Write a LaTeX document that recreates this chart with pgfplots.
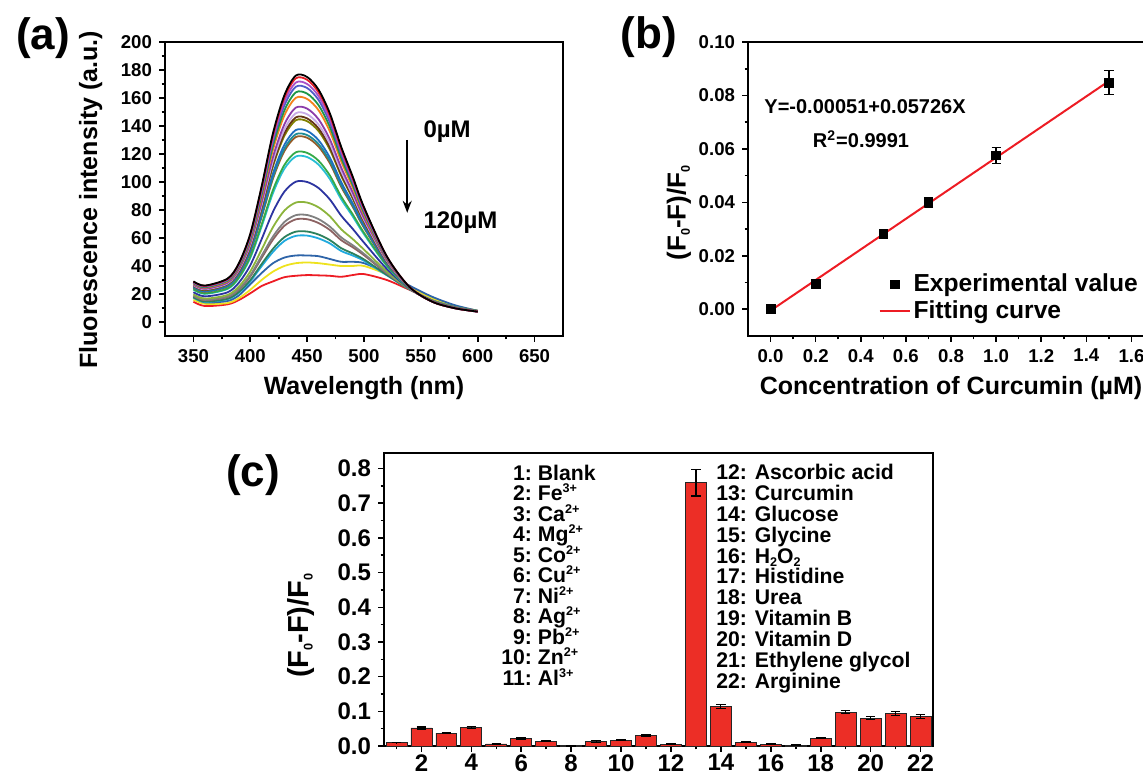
\documentclass[border=0pt]{standalone}
\usepackage{fontspec}
\setmainfont{Liberation Sans}
\usepackage{pgfplots}
\usepackage{pgfplotstable}
\pgfplotsset{compat=1.18}
\usetikzlibrary{arrows.meta}

\newcommand{\fs}[1]{\fontsize{#1}{#1}\selectfont}
\newcommand{\sups}[1]{\raisebox{0.38em}{\fs{6.3}#1}}
\newcommand{\subs}[1]{\raisebox{-0.16em}{\fs{6.3}#1}}

% spectra, 0 uM (c177) down to 120 uM (c33)
\pgfplotstableread{
x   c33  c42  c48  c62  c65  c74  c77  c86  c101  c119  c122  c133  c135  c138  c145  c147  c150  c154  c161  c165  c169  c172  c175  c177
350 14.5 16   18   17.4 17.7 18.6 18.9 19.8 21.3  23.1  23.4  24.5  24.8  25.1  25.8  26    26.3  26.7  27.4  27.8  28.2  28.5  28.8  29
360 11.4 13   14   14.3 14.6 15.5 15.8 16.7 18.3  20.1  20.4  21.5  21.7  22    22.7  22.9  23.3  23.7  24.4  24.8  25.2  25.5  25.8  26
380 12.6 13.5 15   16.3 16.6 17.8 18.2 19.3 21.2  23.6  24    25.4  25.6  26    26.9  27.2  27.5  28.1  29    29.5  30    30.4  30.7  31
390 15.7 17   19   20.9 21.5 23.1 23.7 25.3 28.1  31.4  31.9  33.9  34.3  34.8  36.1  36.5  37.1  37.8  39.1  39.8  40.5  41.1  41.6  42
400 20.5 23   27   29   29.9 32.5 33.4 36.1 40.5  45.8  46.7  50    50.5  51.4  53.5  54.1  55    56.2  58.3  59.4  60.6  61.5  62.4  63
410 25.7 30   35   39.9 41.4 45.8 47.3 51.8 59.2  68.2  69.7  75.1  76.1  77.6  81.1  82.1  83.6  85.6  89.1  91    93    94.5  96    97
420 29   36   42   50.1 52.3 58.9 61.1 67.8 78.8  92.2  94.4  102.5 103.9 106.2 111.4 112.8 115.1 118   123.2 126.1 129.1 131.3 133.5 135
430 32   40   46   57.9 60.6 68.7 71.4 79.6 93.1  109.5 112.2 122.1 123.9 126.6 133   134.8 137.6 141.2 147.6 151.1 154.7 157.5 160.2 162
440 33   42   47.5 61.5 64.5 73.3 76.3 85.3 100.2 118.2 121.2 132.1 134.1 137.1 144.1 146.1 149.1 153.1 160.1 164   168   171   174   176
450 33.5 42.5 47.5 61.7 64.6 73.4 76.4 85.3 100   117.8 120.8 131.6 133.5 136.5 143.4 145.4 148.4 152.4 159.3 163.1 167.1 170   173   175
460 33.3 42   47   59.7 62.5 70.7 73.5 81.9 95.7  112.4 115.2 125.3 127.1 129.9 136.4 138.3 141.1 144.8 151.3 154.9 158.6 161.4 164.1 166
470 33   41   45   56.1 58.5 65.7 68.1 75.5 87.5  102.1 104.6 113.4 115   117.4 123.1 124.8 127.2 130.4 136.1 139.3 142.5 144.9 147.4 149
480 32.3 40   43   50.7 52.7 58.4 60.4 66.2 75.9  87.6  89.5  96.5  97.8  99.8  104.3 105.6 107.6 110.2 114.7 117.2 119.8 121.8 123.7 125
490 33.5 40   43   47.5 49   53.4 54.9 59.3 66.6  75.5  77    82.4  83.3  84.8  88.3  89.3  90.7  92.7  96.2  98.1  100.1 101.5 103   104
500 34.2 40   42   43.7 44.7 47.7 48.7 51.7 56.7  62.7  63.7  67.3  68    69    71.3  72    73    74.4  76.7  78    79.3  80.3  81.3  82
520 30   34   35   33.4 33.7 34.8 35.2 36.2 38    40.1  40.5  41.8  42    42.4  43.2  43.4  43.8  44.3  45.1  45.6  46    46.4  46.8  47
540 23   25   26   23.4 23.4 23.6 23.6 23.7 23.9  24.2  24.2  24.4  24.4  24.5  24.6  24.6  24.6  24.7  24.8  24.8  24.9  24.9  25    25
560 15.7 17   18   15.5 15.4 15.4 15.3 15.3 15.1  15    15    14.9  14.9  14.8  14.8  14.8  14.7  14.7  14.6  14.6  14.6  14.5  14.5  14.5
580 11   11.5 12   10.8 10.7 10.7 10.6 10.6 10.4  10.3  10.3  10.2  10.2  10.1  10.1  10.1  10    10    9.9   9.9   9.9   9.8   9.8   9.8
600 8    8    8    7.9  7.9  7.8  7.8  7.8  7.7   7.6   7.6   7.6   7.6   7.6   7.5   7.5   7.5   7.5   7.5   7.5   7.4   7.4   7.4   7.4
}\spectra

\definecolor{s01}{RGB}{237,28,36}
\definecolor{s02}{RGB}{238,226,30}
\definecolor{s03}{RGB}{46,100,168}
\definecolor{s04}{RGB}{32,170,222}
\definecolor{s05}{RGB}{44,128,92}
\definecolor{s06}{RGB}{140,98,98}
\definecolor{s07}{RGB}{128,128,128}
\definecolor{s08}{RGB}{140,180,60}
\definecolor{s09}{RGB}{44,52,160}
\definecolor{s10}{RGB}{40,190,212}
\definecolor{s11}{RGB}{52,170,72}
\definecolor{s12}{RGB}{150,92,40}
\definecolor{s13}{RGB}{30,140,150}
\definecolor{s14}{RGB}{30,110,192}
\definecolor{s15}{RGB}{128,128,0}
\definecolor{s16}{RGB}{100,52,22}
\definecolor{s17}{RGB}{200,170,230}
\definecolor{s18}{RGB}{140,60,170}
\definecolor{s19}{RGB}{245,130,30}
\definecolor{s20}{RGB}{30,150,70}
\definecolor{s21}{RGB}{80,90,200}
\definecolor{s22}{RGB}{170,80,200}
\definecolor{s23}{RGB}{230,30,40}
\definecolor{s24}{RGB}{0,0,0}
\definecolor{barred}{RGB}{236,46,38}

\pgfplotsset{
  panel/.style={
    scale only axis,
    clip=false,
    axis line style={line width=0.9pt},
    tick align=outside,
    xtick pos=bottom, ytick pos=left,
    major tick length=3pt, minor tick length=1.7pt,
    every tick/.style={line width=0.8pt, black},
    /pgf/number format/assume math mode=true,
    label style={font=\bfseries\fs{12.5}},
  },
  legmark/.style={legend image code/.code={%
    \draw[mark repeat=2, mark phase=2, ##1] plot coordinates {(0pt,0pt) (7.5pt,0pt) (15pt,0pt)};}},
  legline/.style={legend image code/.code={\draw[##1] (0pt,0pt) -- (15pt,0pt);}},
}

\begin{document}
\begin{tikzpicture}
\useasboundingbox (0,0) rectangle (571.5pt,387pt);

% ---------- (a) ----------
\begin{axis}[panel,
  at={(82.5pt,219pt)}, anchor=south west,
  width=199pt, height=147pt,
  xmin=325, xmax=675, ymin=-10, ymax=200,
  xtick={350,400,...,650}, minor x tick num=1,
  ytick={0,20,...,200}, minor y tick num=1,
  ticklabel style={font=\bfseries\fs{9.3}},
  xlabel={Wavelength (nm)},
  ylabel={Fluorescence intensity (a.u.)},
  xlabel style={at={(axis description cs:0.5,-0.177)}, anchor=center},
  ylabel style={at={(axis description cs:-0.187,0.463)}, anchor=center},
  cycle list={s01\\s02\\s03\\s04\\s05\\s06\\s07\\s08\\s09\\s10\\s11\\s12\\s13\\s14\\s15\\s16\\s17\\s18\\s19\\s20\\s21\\s22\\s23\\s24\\},
  every axis plot/.append style={no marks, smooth, line width=0.9pt},
]
\pgfplotsinvokeforeach{c33,c42,c48,c62,c65,c74,c77,c86,c101,c119,c122,c133,c135,c138,c145,c147,c150,c154,c161,c165,c169,c172,c175,c177}{
  \addplot table[x=x, y=#1]{\spectra};
}
\draw[-{Stealth[length=6pt,width=4.5pt]}, line width=0.8pt] (axis cs:538,130) -- (axis cs:538,78);
\node[anchor=west, font=\bfseries\fs{12}, inner sep=0pt] at (axis cs:552,136) {0µM};
\node[anchor=west, font=\bfseries\fs{12}, inner sep=0pt] at (axis cs:552,71) {120µM};
\end{axis}

% ---------- (b) ----------
\begin{axis}[panel,
  at={(374pt,219pt)}, anchor=south west,
  width=203pt, height=147pt,
  xmin=-0.1, xmax=1.7, ymin=-0.01, ymax=0.10,
  xtick={0,0.2,0.4,0.6,0.8,1.0,1.2,1.4,1.6}, minor x tick num=1,
  ytick={0,0.02,0.04,0.06,0.08,0.10}, minor y tick num=1,
  ticklabel style={font=\bfseries\fs{9.3}},
  xticklabel style={/pgf/number format/.cd, fixed, fixed zerofill, precision=1},
  yticklabel style={/pgf/number format/.cd, fixed, fixed zerofill, precision=2},
  xlabel={Concentration of Curcumin (µM)},
  ylabel={(F\subs{0}-F)/F\subs{0}},
  xlabel style={at={(axis description cs:0.5,-0.177)}, anchor=center},
  ylabel style={at={(axis description cs:-0.17,0.418)}, anchor=center, font=\bfseries\fs{13}},
  legend style={at={(axis cs:0.477,0.0145)}, anchor=north west, draw=none, fill=none,
    inner sep=0pt, font=\bfseries\fs{12.3}, row sep=0pt, column sep=0pt, nodes={inner sep=1.5pt}},
  legend cell align=left,
]
\addplot[only marks, mark=square*, mark size=2.2pt, black, legmark,
  error bars/.cd, y dir=both, y explicit,
  error bar style={line width=0.7pt},
  error mark options={rotate=90, mark size=2.3pt, line width=0.7pt}]
  coordinates {
    (0.0,0.0000) +- (0,0.0005)
    (0.2,0.0095) +- (0,0.0008)
    (0.5,0.0282) +- (0,0.0008)
    (0.7,0.0400) +- (0,0.0018)
    (1.0,0.0576) +- (0,0.0030)
    (1.5,0.0848) +- (0,0.0045)
  };
\addlegendentry{Experimental value}
\addplot[color=s01, line width=1pt, legline]
  coordinates {(0,-0.00051) (1.5,0.08538)};
\addlegendentry{Fitting curve}
\node[font=\bfseries\fs{10}] at (axis cs:0.419,0.0760) {Y=-0.00051+0.05726X};
\node[font=\bfseries\fs{10}] at (axis cs:0.401,0.0637) {R\textsuperscript{2}=0.9991};
\end{axis}

% ---------- (c) ----------
\begin{axis}[panel,
  at={(192pt,14pt)}, anchor=south west,
  width=274.5pt, height=146.5pt,
  xmin=0.5, xmax=22.5, ymin=0, ymax=0.845,
  xtick={2,4,...,22}, minor xtick={1,3,...,21},
  ticklabel style={font=\bfseries\fs{12}},
  xticklabel style={yshift=2.4pt},
  ytick={0,0.1,0.2,0.3,0.4,0.5,0.6,0.7,0.8}, minor y tick num=1,
  yticklabel style={/pgf/number format/.cd, fixed, fixed zerofill, precision=1},
  ylabel={(F\subs{0}-F)/F\subs{0}},
  ylabel style={at={(axis description cs:-0.152,0.41)}, anchor=center, font=\bfseries\fs{14.5}},
]
\addplot[ybar, bar width=0.84, fill=barred, draw=black!85, line width=0.4pt,
  error bars/.cd, y dir=both, y explicit,
  error bar style={line width=0.6pt, black},
  error mark options={rotate=90, mark size=2.4pt, line width=0.6pt, black}]
  coordinates {
    (1,0.010) +- (0,0.001)
    (2,0.052) +- (0,0.003)
    (3,0.037) +- (0,0.002)
    (4,0.053) +- (0,0.003)
    (5,0.006) +- (0,0.001)
    (6,0.021) +- (0,0.002)
    (7,0.014) +- (0,0.002)
    (8,0.001) +- (0,0.001)
    (9,0.013) +- (0,0.002)
    (10,0.017) +- (0,0.002)
    (11,0.030) +- (0,0.002)
    (12,0.005) +- (0,0.001)
    (13,0.759) +- (0,0.038)
    (14,0.113) +- (0,0.006)
    (15,0.011) +- (0,0.002)
    (16,0.005) +- (0,0.001)
    (17,0.002) +- (0,0.001)
    (18,0.023) +- (0,0.002)
    (19,0.098) +- (0,0.005)
    (20,0.080) +- (0,0.004)
    (21,0.094) +- (0,0.006)
    (22,0.085) +- (0,0.005)
  };
\end{axis}

% panel letters
\node[font=\bfseries\fs{22}] at (21.5pt,368pt) {(a)};
\node[font=\bfseries\fs{22}] at (324.5pt,368.5pt) {(b)};
\node[font=\bfseries\fs{22}] at (126.5pt,149.5pt) {(c)};

% key of panel (c)
\foreach \n/\t [count=\k from 0] in {1/Blank, 2/{Fe\sups{3+}}, 3/{Ca\sups{2+}}, 4/{Mg\sups{2+}},
    5/{Co\sups{2+}}, 6/{Cu\sups{2+}}, 7/{Ni\sups{2+}}, 8/{Ag\sups{2+}},
    9/{Pb\sups{2+}}, 10/{Zn\sups{2+}}, 11/{Al\sups{3+}}}
  \node[anchor=base west, inner sep=0pt, font=\bfseries\fs{10.6}] at (250.5pt,146.75pt-\k*10.25pt)
    {\makebox[1.445em][r]{\n:}\ \t};
\foreach \n/\t [count=\k from 0] in {12/Ascorbic acid, 13/Curcumin, 14/Glucose, 15/Glycine,
    16/{H\subs{2}O\subs{2}}, 17/Histidine, 18/Urea, 19/Vitamin B, 20/Vitamin D,
    21/Ethylene glycol, 22/Arginine}
  \node[anchor=base west, inner sep=0pt, font=\bfseries\fs{10.6}] at (358pt,147.25pt-\k*10.45pt)
    {\n: \t};
\end{tikzpicture}
\end{document}
